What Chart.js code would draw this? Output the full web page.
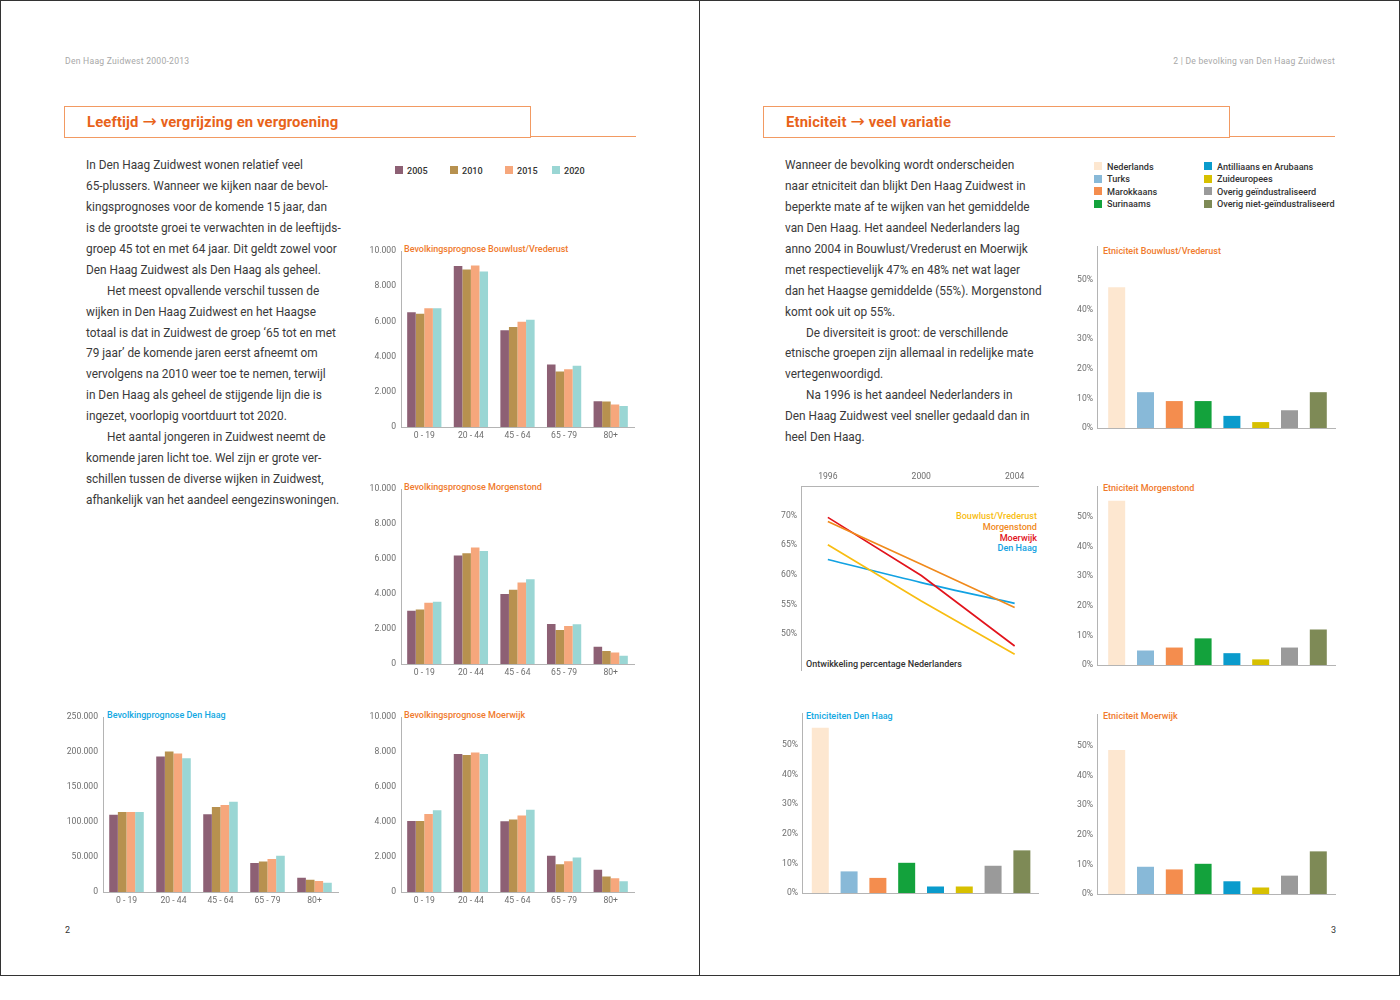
<!DOCTYPE html>
<html>
<head>
<meta charset="utf-8">
<script src="https://cdn.jsdelivr.net/npm/chart.js@4.4.1/dist/chart.umd.min.js"></script>
<style>
  body { margin: 0; background: #fff; font-family: Roboto, "Open Sans", sans-serif; }
  #wrap { position: relative; width: 1400px; height: 1000px; overflow: hidden; }
  .page { position: absolute; top: 0; height: 976px; border: 1px solid #333; box-sizing: border-box; }
  .abs { position: absolute; white-space: nowrap; }
  .runhead { font-size: 8.6px; color: #a8a8a8; line-height: 12px; letter-spacing: 0.25px; }
  .titlebox { position: absolute; height: 32px; border: 1.5px solid #f29a62; box-sizing: border-box; }
  .titleline { position: absolute; height: 0; border-top: 1.5px solid #f29a62; }
  .title { font-size: 14.8px; font-weight: 700; color: #e8631a; line-height: 20px; letter-spacing: 0.15px; }
  .title .arr { font-family: "DejaVu Sans", sans-serif; font-weight: 400; font-size: 17px; }
  .body { font-size: 11.85px; color: #3a3a3a; line-height: 20.94px; }
  .ctitle { font-size: 9px; font-weight: 500; line-height: 12px; }
  .leg { font-size: 9.1px; color: #333; line-height: 12px; font-weight: 500; }
  .sw { position: absolute; width: 8px; height: 8px; }
  .chart { position: absolute; }
  .pnum { font-size: 9px; color: #333; line-height: 12px; }
</style>
</head>
<body>
<div id="wrap">
  <div class="page" style="left:0;width:700px"></div>
  <div class="page" style="left:699px;width:701px"></div>

  <div class="abs runhead" style="left:65px;top:55px">Den Haag Zuidwest 2000-2013</div>
  <div class="abs runhead" style="right:65px;top:55px">2 | De bevolking van Den Haag Zuidwest</div>

  <div class="titlebox" style="left:64px;top:106px;width:467px"></div>
  <div class="titleline" style="left:530px;top:136px;width:106px"></div>
  <div class="abs title" style="left:87px;top:111px">Leeftijd <span class="arr">→</span> vergrijzing en vergroening</div>

  <div class="titlebox" style="left:763px;top:106px;width:467px"></div>
  <div class="titleline" style="left:1229px;top:136px;width:106px"></div>
  <div class="abs title" style="left:786px;top:111px">Etniciteit <span class="arr">→</span> veel variatie</div>

  <div id="textLeft" class="abs body" style="left:86px;top:155px"></div>
  <div id="textRight" class="abs body" style="left:785px;top:155px"></div>

  <div id="legAge"></div>
  <div id="legEth"></div>
  <div id="legTrend"></div>
  <div id="titles"></div>

  <div class="chart" id="cBouwlust"><canvas></canvas></div>
  <div class="chart" id="cMorgenstond"><canvas></canvas></div>
  <div class="chart" id="cDenHaag"><canvas></canvas></div>
  <div class="chart" id="cMoerwijk"><canvas></canvas></div>

  <div class="chart" id="eBouwlust"><canvas></canvas></div>
  <div class="chart" id="eMorgenstond"><canvas></canvas></div>
  <div class="chart" id="eDenHaag"><canvas></canvas></div>
  <div class="chart" id="eMoerwijk"><canvas></canvas></div>

  <div class="chart" id="trend"><canvas></canvas></div>

  <div class="abs pnum" style="left:65px;top:924px">2</div>
  <div class="abs pnum" style="left:1331px;top:924px">3</div>
</div>

<script>
// --- data ---
const ageGroups = ['0 - 19', '20 - 44', '45 - 64', '65 - 79', '80+'];
const years = ['2005', '2010', '2015', '2020'];

// one row per year (2005, 2010, 2015, 2020)
const bouwlustAge = [
    [6530, 9150, 5500, 3560, 1470],
    [6440, 8960, 5690, 3160, 1450],
    [6760, 9190, 5990, 3280, 1280],
    [6760, 8850, 6100, 3480, 1190]
];
const morgenstondAge = [
    [3050, 6210, 4000, 2290, 990],
    [3120, 6330, 4240, 1950, 740],
    [3500, 6670, 4660, 2180, 660],
    [3560, 6460, 4850, 2270, 470]
];
const denHaagAge = [
    [110600, 193800, 111000, 41600, 20300],
    [114400, 200800, 121500, 43500, 17500],
    [114400, 198000, 124300, 47300, 15600],
    [114400, 191400, 129000, 52000, 13200]
];
const moerwijkAge = [
    [4060, 7900, 4050, 2080, 1270],
    [4060, 7830, 4140, 1590, 890],
    [4460, 7980, 4370, 1760, 790],
    [4670, 7900, 4710, 1970, 620]
];

const ethnicGroups = ['Nederlands', 'Turks', 'Marokkaans', 'Surinaams',
    'Antilliaans en Arubaans', 'Zuideuropees', 'Overig geïndustraliseerd', 'Overig niet-geïndustraliseerd'];
const ethBouwlust = [47.6, 12.1, 9.1, 9.1, 4.1, 2.0, 6.0, 12.1];
const ethMorgenstond = [55.5, 4.9, 5.9, 9.0, 4.0, 1.9, 5.9, 12.0];
const ethDenHaag = [55.8, 7.3, 5.1, 10.2, 2.2, 2.2, 9.2, 14.4];
const ethMoerwijk = [48.6, 9.2, 8.3, 10.2, 4.3, 2.2, 6.2, 14.4];
const pctTicks = [0, 10, 20, 30, 40, 50];

const trendYears = [1996, 2000, 2004];
const trendNames = ['Bouwlust/Vrederust', 'Morgenstond', 'Moerwijk', 'Den Haag'];
const trendBouwlust = [65.1, 55.6, 46.6];
const trendMorgenstond = [69.0, 61.8, 54.5];
const trendMoerwijk = [69.7, 59.9, 48.0];
const trendDenHaag = [62.6, 58.7, 55.2];
const trendTicks = [50, 55, 60, 65, 70];

// --- styles ---
const yearColors = ['#8d6074', '#b7914f', '#f6a77c', '#9ad6d4'];
const ethnicColors = ['#fde7d0', '#88b9d8', '#f48d4e', '#13a23c', '#0a9bcc', '#d7c000', '#9a9a9a', '#7e8a56'];
const trendColors = ['#f8bd12', '#f08a1c', '#e2141c', '#12a2e2'];
const axisGray = '#b4b4b4';
const tickGray = '#6e6e6e';
const tickFont = { family: 'Roboto', size: 8.6 };
const orange = '#f07a2c';
const blue = '#12a8e2';

const leftText = [
    'In Den Haag Zuidwest wonen relatief veel',
    '65-plussers. Wanneer we kijken naar de bevol-',
    'kingsprognoses voor de komende 15 jaar, dan',
    'is de grootste groei te verwachten in de leeftijds-',
    'groep 45 tot en met 64 jaar. Dit geldt zowel voor',
    'Den Haag Zuidwest als Den Haag als geheel.',
    '\tHet meest opvallende verschil tussen de',
    'wijken in Den Haag Zuidwest en het Haagse',
    'totaal is dat in Zuidwest de groep ‘65 tot en met',
    '79 jaar’ de komende jaren eerst afneemt om',
    'vervolgens na 2010 weer toe te nemen, terwijl',
    'in Den Haag als geheel de stijgende lijn die is',
    'ingezet, voorlopig voortduurt tot 2020.',
    '\tHet aantal jongeren in Zuidwest neemt de',
    'komende jaren licht toe. Wel zijn er grote ver-',
    'schillen tussen de diverse wijken in Zuidwest,',
    'afhankelijk van het aandeel eengezinswoningen.'
];
const rightText = [
    'Wanneer de bevolking wordt onderscheiden',
    'naar etniciteit dan blijkt Den Haag Zuidwest in',
    'beperkte mate af te wijken van het gemiddelde',
    'van Den Haag. Het aandeel Nederlanders lag',
    'anno 2004 in Bouwlust/Vrederust en Moerwijk',
    'met respectievelijk 47% en 48% net wat lager',
    'dan het Haagse gemiddelde (55%). Morgenstond',
    'komt ook uit op 55%.',
    '\tDe diversiteit is groot: de verschillende',
    'etnische groepen zijn allemaal in redelijke mate',
    'vertegenwoordigd.',
    '\tNa 1996 is het aandeel Nederlanders in',
    'Den Haag Zuidwest veel sneller gedaald dan in',
    'heel Den Haag.'
];

function fillText(id, lines) {
    const el = document.getElementById(id);
    lines.forEach((l) => {
        const d = document.createElement('div');
        if (l.startsWith('\t')) {
            d.style.paddingLeft = '21px';
            l = l.slice(1);
        }
        d.textContent = l;
        el.appendChild(d);
    });
}
fillText('textLeft', leftText);
fillText('textRight', rightText);

function addText(parent, cls, text, left, centerY, color, right) {
    const d = document.createElement('div');
    d.className = 'abs ' + cls;
    d.textContent = text;
    d.style.top = (centerY - 6) + 'px';
    if (right) d.style.right = (1400 - left) + 'px';
    else d.style.left = left + 'px';
    if (color) d.style.color = color;
    document.getElementById(parent).appendChild(d);
}
function addSwatch(parent, x, centerY, color) {
    const s = document.createElement('div');
    s.className = 'sw';
    s.style.left = x + 'px';
    s.style.top = (centerY - 4) + 'px';
    s.style.background = color;
    document.getElementById(parent).appendChild(s);
}

// age legend
const ageLegX = [395, 450, 505, 552];
years.forEach((y, i) => {
    addSwatch('legAge', ageLegX[i], 170, yearColors[i]);
    addText('legAge', 'leg', y, ageLegX[i] + 12, 171);
});

// ethnic legend, two columns
ethnicGroups.forEach((g, i) => {
    const col = Math.floor(i / 4), row = i % 4;
    const x = col ? 1204 : 1094;
    const y = 166 + row * 12.5;
    addSwatch('legEth', x, y, ethnicColors[i]);
    addText('legEth', 'leg', g, x + 13, y + 0.5);
});

// trend legend, right aligned
const trendLegY = [516, 527, 538, 548];
trendNames.forEach((n, i) => addText('legTrend', 'leg', n, 1037, trendLegY[i], trendColors[i], true));

// chart titles
addText('titles', 'ctitle', 'Bevolkingsprognose Bouwlust/Vrederust', 404, 249, orange);
addText('titles', 'ctitle', 'Bevolkingsprognose Morgenstond', 404, 487, orange);
addText('titles', 'ctitle', 'Bevolkingprognose Den Haag', 107, 715, blue);
addText('titles', 'ctitle', 'Bevolkingsprognose Moerwijk', 404, 715, orange);
addText('titles', 'ctitle', 'Etniciteit Bouwlust/Vrederust', 1103, 251, orange);
addText('titles', 'ctitle', 'Etniciteit Morgenstond', 1103, 488, orange);
addText('titles', 'ctitle', 'Etniciteiten Den Haag', 806, 716, blue);
addText('titles', 'ctitle', 'Etniciteit Moerwijk', 1103, 716, orange);
addText('titles', 'ctitle', 'Ontwikkeling percentage Nederlanders', 806, 664, '#333');

function sepThousands(v) {
    return String(v).replace(/\B(?=(\d{3})+(?!\d))/g, '.');
}

function placeBox(id, axisX, rightX, topY, zeroY, padL, padR, padT, padB) {
    const box = document.getElementById(id);
    box.style.left = (axisX - padL) + 'px';
    box.style.top = (topY - padT) + 'px';
    box.style.width = (rightX - axisX + padL + padR) + 'px';
    box.style.height = (zeroY - topY + padT + padB) + 'px';
    return box.querySelector('canvas');
}

function ageChart(id, axisX, rightX, topY, zeroY, yMax, yStep, values) {
    const padL = 46, padR = 6, padT = 8, padB = 18;
    const canvas = placeBox(id, axisX, rightX, topY, zeroY, padL, padR, padT, padB);
    new Chart(canvas, {
        type: 'bar',
        data: {
            labels: ageGroups,
            datasets: years.map((y, i) => ({
                label: y,
                data: values[i],
                backgroundColor: yearColors[i],
                borderWidth: 0,
                categoryPercentage: 0.735,
                barPercentage: 1
            }))
        },
        options: {
            responsive: true,
            maintainAspectRatio: false,
            animation: false,
            layout: { padding: { left: 0, right: padR, top: padT, bottom: 0 } },
            plugins: { legend: { display: false }, tooltip: { enabled: false } },
            scales: {
                x: {
                    grid: { display: false, drawTicks: false },
                    border: { color: axisGray, width: 1 },
                    ticks: { color: tickGray, font: tickFont, padding: 4 },
                    afterFit: (s) => { s.height = padB; }
                },
                y: {
                    min: 0,
                    max: yMax,
                    grid: { display: false, drawTicks: false },
                    border: { color: axisGray, width: 1 },
                    ticks: {
                        stepSize: yStep,
                        color: tickGray,
                        font: tickFont,
                        padding: 5,
                        callback: (v) => sepThousands(v)
                    },
                    afterFit: (s) => { s.width = padL; }
                }
            }
        }
    });
}

ageChart('cBouwlust', 401, 634, 249, 427, 10000, 2000, bouwlustAge);
ageChart('cMorgenstond', 401, 634, 487, 664, 10000, 2000, morgenstondAge);
ageChart('cMoerwijk', 401, 634, 715, 892, 10000, 2000, moerwijkAge);
ageChart('cDenHaag', 103, 338, 715, 892, 250000, 50000, denHaagAge);

function ethnicChart(id, axisX, rightX, topY, zeroY, yMax, xMin, xMax, values) {
    const padL = 30, padR = 4, padT = 10, padB = 10;
    const canvas = placeBox(id, axisX, rightX, topY, zeroY, padL, padR, padT, padB);
    new Chart(canvas, {
        type: 'bar',
        data: {
            datasets: [{
                label: 'Etniciteit',
                data: values.map((v, i) => ({ x: i, y: v })),
                backgroundColor: ethnicColors,
                borderWidth: 0,
                categoryPercentage: 0.59,
                barPercentage: 1
            }]
        },
        options: {
            responsive: true,
            maintainAspectRatio: false,
            animation: false,
            layout: { padding: { left: 0, right: padR, top: padT, bottom: 0 } },
            plugins: { legend: { display: false }, tooltip: { enabled: false } },
            scales: {
                x: {
                    type: 'linear',
                    offset: false,
                    min: xMin,
                    max: xMax,
                    grid: { display: false, drawTicks: false, offset: false },
                    border: { color: axisGray, width: 1 },
                    ticks: { display: false },
                    afterFit: (s) => { s.height = padB; }
                },
                y: {
                    min: 0,
                    max: yMax,
                    grid: { display: false, drawTicks: false },
                    border: { color: axisGray, width: 1 },
                    afterBuildTicks: (s) => { s.ticks = pctTicks.map((v) => ({ value: v })); },
                    ticks: {
                        color: tickGray,
                        font: tickFont,
                        padding: 4,
                        callback: (v) => v + '%'
                    },
                    afterFit: (s) => { s.width = padL; }
                }
            }
        }
    });
}

ethnicChart('eBouwlust', 1097, 1335, 246, 428, 61.5, -0.684, 7.58, ethBouwlust);
ethnicChart('eMorgenstond', 1097, 1335, 486, 665, 60.5, -0.684, 7.58, ethMorgenstond);
ethnicChart('eDenHaag', 802, 1038, 713, 893, 60.8, -0.635, 7.56, ethDenHaag);
ethnicChart('eMoerwijk', 1097, 1335, 714, 894, 60.8, -0.684, 7.58, ethMoerwijk);

// trend chart
(function () {
    const padL = 31, padR = 7, padT = 22, padB = 8;
    const canvas = placeBox('trend', 801, 1038, 486, 672, padL, padR, padT, padB);
    const series = [trendBouwlust, trendMorgenstond, trendMoerwijk, trendDenHaag];
    new Chart(canvas, {
        type: 'line',
        data: {
            datasets: series.map((vals, i) => ({
                label: trendNames[i],
                data: trendYears.map((x, j) => ({ x: x, y: vals[j] })),
                borderColor: trendColors[i],
                borderWidth: 1.7,
                pointRadius: 0,
                tension: i === 3 ? 0.3 : 0,
                fill: false
            }))
        },
        options: {
            responsive: true,
            maintainAspectRatio: false,
            animation: false,
            layout: { padding: { left: 0, right: padR, top: 0, bottom: padB } },
            plugins: { legend: { display: false }, tooltip: { enabled: false } },
            scales: {
                x: {
                    type: 'linear',
                    position: 'top',
                    min: 1994.85,
                    max: 2005,
                    grid: { display: false, drawTicks: false },
                    border: { color: axisGray, width: 1 },
                    afterBuildTicks: (s) => { s.ticks = trendYears.map((v) => ({ value: v })); },
                    ticks: { color: tickGray, font: tickFont, padding: 4, callback: (v) => String(v) },
                    afterFit: (s) => { s.height = padT; }
                },
                y: {
                    min: 43.8,
                    max: 75,
                    grid: { display: false, drawTicks: false },
                    border: { color: axisGray, width: 1 },
                    afterBuildTicks: (s) => { s.ticks = trendTicks.map((v) => ({ value: v })); },
                    ticks: { color: tickGray, font: tickFont, padding: 4, callback: (v) => v + '%' },
                    afterFit: (s) => { s.width = padL; }
                }
            }
        }
    });
})();
</script>
</body>
</html>
